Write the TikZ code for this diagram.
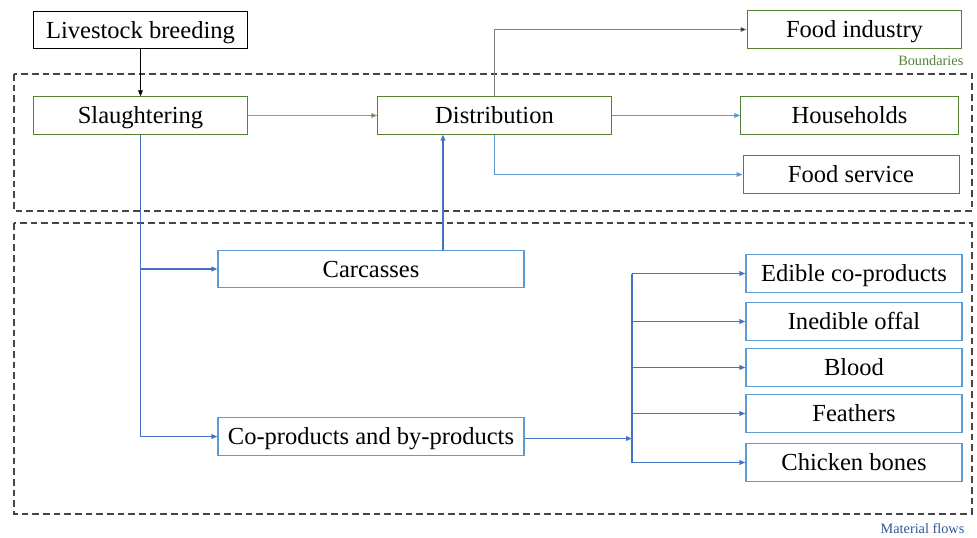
\documentclass[tikz,border=0pt]{standalone}
\usepackage{fontspec}
\setmainfont{Liberation Serif}
\usepackage{tikz}
\usetikzlibrary{arrows.meta}

\definecolor{bgreen}{RGB}{84,130,53}
\definecolor{lgreen}{RGB}{140,165,120}
\definecolor{bblue}{RGB}{91,155,213}
\definecolor{fblue}{RGB}{68,114,196}
\definecolor{tblue}{RGB}{47,85,151}
\definecolor{dgray}{RGB}{70,70,70}

\tikzset{
  box/.style={draw, line width=0.75pt, inner sep=0pt, minimum height=28pt,
    text height=12pt, text depth=0pt, font=\fontsize{18.4}{22}\selectfont},
  gbox/.style={box, draw=bgreen},
  bbox/.style={box, draw=bblue, line width=0.9pt},
  tip/.style={-{Triangle[length=4.5pt,width=3.5pt]}},
  flow/.style={tip, draw=fblue, line width=0.9pt},
  thin flow/.style={tip, draw=bblue, line width=0.6pt},
  bound/.style={draw=dgray, dash pattern=on 5pt off 3pt, line width=0.8pt}
}

\begin{document}
\begin{tikzpicture}[x=0.75pt, y=-0.75pt]
    \useasboundingbox (0,0) rectangle (977,537);

    \draw[bound] (14,74) rectangle (972,211);
    \draw[bound] (14,223) rectangle (972,514);
    \node[anchor=east, text=bgreen, font=\fontsize{10.7}{12}\selectfont] (bndlabel) at (968,61) {Boundaries};
    \node[anchor=east, text=tblue, font=\fontsize{10.7}{12}\selectfont] (flowlabel) at (969,529) {Material flows};

    \node[box, minimum width=161pt] (breeding) at (140.5,30) {Livestock breeding};
    \node[gbox, minimum width=161pt] (slaughter) at (140.5,115.5) {Slaughtering};
    \node[gbox, minimum width=175pt] (distrib) at (494.5,115.5) {Distribution};
    \node[gbox, minimum width=161pt] (foodind) at (854.5,29.5) {Food industry};
    \node[gbox, minimum width=163pt] (household) at (849.5,115.5) {Households};
    \node[gbox, minimum width=162pt] (foodserv) at (851,174.5) {Food service};

    \node[bbox, minimum width=229.5pt] (carcass) at (371,269) {Carcasses};
    \node[bbox, minimum width=229.5pt] (coprod) at (371,436.5) {Co-products and by-products};

    \node[bbox, minimum width=162pt] (edible) at (854,273.5) {Edible co-products};
    \node[bbox, minimum width=162pt] (offal) at (854,321.5) {Inedible offal};
    \node[bbox, minimum width=162pt] (blood) at (854,367.5) {Blood};
    \node[bbox, minimum width=162pt] (feather) at (854,413.5) {Feathers};
    \node[bbox, minimum width=162pt] (bones) at (854,462.5) {Chicken bones};

    \coordinate (split) at (632,438.5);

    \draw[tip, line width=0.6pt] (breeding) -- (slaughter);
    \draw[-{Triangle[length=4.5pt,width=3.5pt,fill=bgreen]}, draw=lgreen, line width=0.6pt] (slaughter) -- (distrib);
    \draw[-{Triangle[length=4.5pt,width=3.5pt,fill=black]}, draw=gray, line width=0.6pt] (distrib.north) |- (foodind.west);
    \draw[thin flow] (distrib) -- (household);
    \draw[thin flow] (distrib.south) |- (foodserv.west);

    \draw[flow] (slaughter.south) |- (carcass.west);
    \draw[flow] (slaughter.south) |- (coprod.west);
    \draw[flow] ([xshift=54pt]carcass.north) -- ([xshift=54pt]carcass.north |- distrib.south);
    \draw[flow] (coprod.east |- split) -- (split);

    \draw[fblue, line width=0.9pt] (split |- edible.west) -- (split |- bones.west);
    \draw[flow] (split |- edible.west) -- (edible.west);
    \draw[flow] (split |- offal.west) -- (offal.west);
    \draw[flow] (split |- blood.west) -- (blood.west);
    \draw[flow] (split |- feather.west) -- (feather.west);
    \draw[flow] (split |- bones.west) -- (bones.west);
\end{tikzpicture}
\end{document}
